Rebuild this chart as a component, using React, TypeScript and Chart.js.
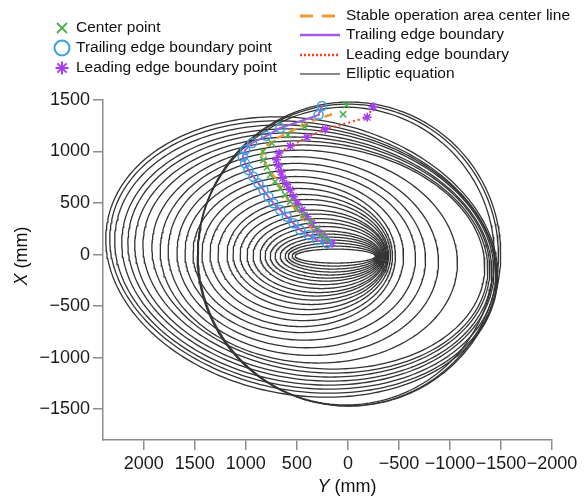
import React, { useEffect, useRef } from 'react';
import { Chart, registerables } from 'chart.js';

Chart.register(...registerables);

// Axis ticks (mm)
const horizontalTicks = [2000, 1500, 1000, 500, 0, -500, -1000, -1500, -2000]; // Y (mm)
const verticalTicks = [1500, 1000, 500, 0, -500, -1000, -1500]; // X (mm)

// Center points (Y, X) in mm
const centerPointY = [15, 47, 425, 588, 745, 833, 828, 794, 762, 713, 663, 614, 565, 499, 434, 369, 303, 254, 204];
const centerPointX = [1451, 1361, 1241, 1160, 1080, 998, 917, 847, 772, 707, 643, 578, 513, 449, 383, 318, 254, 189, 141];

// Trailing edge boundary points
const trailingY = [254, 287, 663, 801, 939, 1007, 1030, 1007, 975, 926, 877, 827, 778, 729, 663, 598, 533, 467, 385, 303, 204];
const trailingX = [1442, 1354, 1228, 1150, 1083, 1015, 950, 885, 820, 755, 691, 626, 561, 497, 432, 367, 303, 238, 189, 141, 109];

// Leading edge boundary points
const leadingY = [-248, -189, 221, 401, 565, 675, 700, 680, 655, 640, 600, 565, 533, 499, 450, 401, 352, 303, 254, 204, 155];
const leadingX = [1435, 1332, 1216, 1138, 1053, 985, 920, 860, 800, 740, 680, 626, 561, 497, 432, 367, 303, 238, 189, 141, 109];

// Stable operation area center line
const centerLineY = [155, 340, 535, 696, 830, 843, 800, 760, 712, 647, 565, 480, 400, 320, 230, 180];
const centerLineX = [1362, 1300, 1208, 1128, 1034, 950, 870, 800, 743, 626, 500, 400, 300, 210, 140, 110];

// Elliptic equation family: center (Y, X) in mm, semi-axes (mm), tilt of major axis (deg)
const ellipseCY = [123, 133, 147, 157, 177, 197, 216, 236, 256, 285, 310, 339, 369, 393, 428, 457, 482,
  486, 467, 457, 437, 383,
  290, 319, 349, 373, 393, 418, 437, 452,
  20, 0, -15];
const ellipseCX = [-15, -15, -15, -15, -15, -15, -15, -10, -10, -10, -5, -5, 0, 0, 0, 0, 0,
  0, -5, -10, -15, -20,
  -24, -24, -24, -24, -24, -24, -24, -24,
  -15, -5, 5];
const ellipseA = [393, 413, 437, 457, 486, 516, 545, 575, 604, 644, 678, 717, 757, 791, 845, 894, 948,
  1032, 1130, 1219, 1327, 1459,
  1636, 1697, 1747, 1793, 1833, 1880, 1912, 1936,
  1455, 1475, 1482];
const ellipseB = [68, 97, 126, 155, 184, 214, 243, 282, 320, 359, 398, 437, 485, 534, 583, 641, 699,
  757, 825, 893, 961, 1029,
  1080, 1116, 1154, 1190, 1229, 1264, 1299, 1339,
  1445, 1465, 1475];
const ellipseTilt = [0, 0, 0, 0, 0, 0, 0, 0, 0, 0, 0, 1, 1, 1, 1, 2, 2,
  2, 3, 4, 5, 5,
  6, 7, 7, 8, 8, 9, 10, 10,
  0, 0, 0];

const FONT = "'Liberation Sans', Arial, sans-serif";

const C_GREEN = '#4cae4c';
const C_BLUE = '#3d9fe8';
const C_PURPLE_STAR = '#a43ef0';
const C_PURPLE_LINE = '#a35ae0';
const C_ORANGE = '#f39a2e';
const C_RED = '#ff3b1a';

function zipPts(xs: number[], ys: number[]) {
  return xs.map((x, i) => ({ x, y: ys[i] }));
}

function ellipsePoints(cy: number, cx: number, a: number, b: number, tiltDeg: number) {
  const th = (tiltDeg * Math.PI) / 180;
  const pts: { x: number; y: number }[] = [];
  const n = 240;
  for (let k = 0; k <= n; k++) {
    const t = (2 * Math.PI * k) / n;
    const u = a * Math.cos(t);
    const v = b * Math.sin(t);
    pts.push({ x: cy + u * Math.cos(th) - v * Math.sin(th), y: cx + u * Math.sin(th) + v * Math.cos(th) });
  }
  return pts;
}

function fmt(v: number) {
  return v < 0 ? '\u2212' + Math.abs(v) : String(v);
}

const overlayPlugin = {
  id: 'overlay',
  afterDraw(chart: any) {
    const ctx: CanvasRenderingContext2D = chart.ctx;
    ctx.save();
    const lf = 15.5;
    ctx.font = `${lf}px ${FONT}`;
    ctx.textBaseline = 'middle';
    ctx.textAlign = 'left';
    ctx.fillStyle = '#111';

    // left column
    const mx = 62;
    const ltx = 76;
    let y = 28;
    ctx.strokeStyle = C_GREEN;
    ctx.lineWidth = 1.8;
    ctx.beginPath();
    ctx.moveTo(mx - 5, y - 5); ctx.lineTo(mx + 5, y + 5);
    ctx.moveTo(mx + 5, y - 5); ctx.lineTo(mx - 5, y + 5);
    ctx.stroke();
    ctx.fillText('Center point', ltx, y);
    y = 48;
    ctx.strokeStyle = C_BLUE;
    ctx.lineWidth = 2;
    ctx.beginPath();
    ctx.arc(mx, y, 7.5, 0, Math.PI * 2);
    ctx.stroke();
    ctx.fillText('Trailing edge boundary point', ltx, y);
    y = 68;
    ctx.strokeStyle = C_PURPLE_STAR;
    ctx.lineWidth = 2;
    ctx.beginPath();
    for (let k = 0; k < 4; k++) {
      const ang = (k * Math.PI) / 4;
      ctx.moveTo(mx - 6.5 * Math.cos(ang), y - 6.5 * Math.sin(ang));
      ctx.lineTo(mx + 6.5 * Math.cos(ang), y + 6.5 * Math.sin(ang));
    }
    ctx.stroke();
    ctx.fillText('Leading edge boundary point', ltx, y);

    // right column
    const lx0 = 300, lx1 = 340, tx = 346;
    y = 16;
    ctx.strokeStyle = C_ORANGE;
    ctx.lineWidth = 3;
    ctx.setLineDash([13, 9]);
    ctx.beginPath(); ctx.moveTo(lx0, y); ctx.lineTo(lx1, y); ctx.stroke();
    ctx.setLineDash([]);
    ctx.fillText('Stable operation area center line', tx, y);
    y = 35;
    ctx.strokeStyle = C_PURPLE_LINE;
    ctx.lineWidth = 2.5;
    ctx.beginPath(); ctx.moveTo(lx0, y); ctx.lineTo(lx1, y); ctx.stroke();
    ctx.fillText('Trailing edge boundary', tx, y);
    y = 55;
    ctx.strokeStyle = C_RED;
    ctx.lineWidth = 2.5;
    ctx.setLineDash([2, 2]);
    ctx.beginPath(); ctx.moveTo(lx0, y); ctx.lineTo(lx1, y); ctx.stroke();
    ctx.setLineDash([]);
    ctx.fillText('Leading edge boundary', tx, y);
    y = 74;
    ctx.strokeStyle = '#888';
    ctx.lineWidth = 2;
    ctx.beginPath(); ctx.moveTo(lx0, y); ctx.lineTo(lx1, y); ctx.stroke();
    ctx.fillText('Elliptic equation', tx, y);

    // axis titles
    const tf = 18;
    const drawTitle = (cxp: number, cyp: number, letter: string) => {
      ctx.font = `italic ${tf}px ${FONT}`;
      const w1 = ctx.measureText(letter).width;
      ctx.font = `${tf}px ${FONT}`;
      const w2 = ctx.measureText(' (mm)').width;
      const start = cxp - (w1 + w2) / 2;
      ctx.font = `italic ${tf}px ${FONT}`;
      ctx.fillText(letter, start, cyp);
      ctx.font = `${tf}px ${FONT}`;
      ctx.fillText(' (mm)', start + w1, cyp);
    };
    ctx.fillStyle = '#111';
    drawTitle(347, 487, 'Y');
    ctx.save();
    ctx.translate(22, 256);
    ctx.rotate(-Math.PI / 2);
    drawTitle(0, 0, 'X');
    ctx.restore();
    ctx.restore();
  },
};

export default function App() {
  const ref = useRef<HTMLCanvasElement>(null);
  useEffect(() => {
    document.body.style.margin = '0';
    const canvas = ref.current!;
    const ellipseSets = ellipseCY.map((cy, i) => ({
      type: 'scatter' as const,
      label: 'Elliptic equation',
      data: ellipsePoints(cy, ellipseCX[i], ellipseA[i], ellipseB[i], ellipseTilt[i]),
      showLine: true,
      borderColor: '#333333',
      borderWidth: 1.3,
      pointRadius: 0,
      fill: false,
      order: 5,
    }));
    const chart = new Chart(canvas, {
      type: 'scatter',
      data: {
        datasets: [
          ...ellipseSets,
          {
            label: 'Stable operation area center line',
            data: zipPts(centerLineY, centerLineX),
            showLine: true,
            borderColor: C_ORANGE,
            borderWidth: 2.5,
            borderDash: [8, 5],
            pointRadius: 0,
            order: 3,
          },
          {
            label: 'Trailing edge boundary',
            data: zipPts(trailingY, trailingX),
            showLine: true,
            borderColor: C_PURPLE_LINE,
            borderWidth: 2,
            pointRadius: 0,
            order: 3,
          },
          {
            label: 'Leading edge boundary',
            data: zipPts(leadingY, leadingX),
            showLine: true,
            borderColor: C_RED,
            borderWidth: 2,
            borderDash: [2, 3],
            pointRadius: 0,
            order: 3,
          },
          {
            label: 'Center point',
            data: zipPts(centerPointY, centerPointX),
            showLine: false,
            pointStyle: 'crossRot',
            pointRadius: 4.5,
            borderColor: C_GREEN,
            backgroundColor: C_GREEN,
            pointBorderWidth: 1.5,
            order: 1,
          },
          {
            label: 'Trailing edge boundary point',
            data: zipPts(trailingY, trailingX),
            showLine: false,
            pointStyle: 'circle',
            pointRadius: 4.5,
            borderColor: C_BLUE,
            backgroundColor: 'rgba(0,0,0,0)',
            pointBorderWidth: 1.5,
            order: 1,
          },
          {
            label: 'Leading edge boundary point',
            data: zipPts(leadingY, leadingX),
            showLine: false,
            pointStyle: 'star',
            pointRadius: 4.5,
            borderColor: C_PURPLE_STAR,
            backgroundColor: C_PURPLE_STAR,
            pointBorderWidth: 1.5,
            order: 1,
          },
        ] as any,
      },
      options: {
        responsive: false,
        animation: false,
        devicePixelRatio: 1,
        layout: { padding: { left: 0, right: 32, top: 100, bottom: 0 } },
        plugins: { legend: { display: false }, tooltip: { enabled: false } },
        elements: { line: { tension: 0 } },
        scales: {
          x: {
            type: 'linear',
            reverse: true,
            min: -2000,
            max: 2400,
            afterBuildTicks: (s: any) => {
              s.ticks = horizontalTicks.map((v) => ({ value: v }));
            },
            afterFit: (s: any) => {
              s.height = 59;
            },
            grid: { drawOnChartArea: false, drawTicks: true, tickLength: 10, color: '#8c8c8c', lineWidth: 1.5 },
            border: { display: true, color: '#8c8c8c', width: 1.5 },
            ticks: {
              color: '#1a1a1a',
              padding: 3,
              maxRotation: 0,
              autoSkip: false,
              font: { size: 18, family: FONT },
              callback: (v: any) => fmt(Number(v)),
            },
          },
          y: {
            type: 'linear',
            min: -1800,
            max: 1500,
            afterBuildTicks: (s: any) => {
              s.ticks = verticalTicks.map((v) => ({ value: v }));
            },
            afterFit: (s: any) => {
              s.width = 103;
            },
            grid: { drawOnChartArea: false, drawTicks: true, tickLength: 10, color: '#8c8c8c', lineWidth: 1.5 },
            border: { display: true, color: '#8c8c8c', width: 1.5 },
            ticks: {
              color: '#1a1a1a',
              padding: 3,
              autoSkip: false,
              font: { size: 18, family: FONT },
              callback: (v: any) => fmt(Number(v)),
            },
          },
        },
      } as any,
      plugins: [overlayPlugin],
    });
    return () => chart.destroy();
  }, []);
  return (
    <div style={{ width: 584, height: 499, background: '#fff' }}>
      <canvas ref={ref} width={584} height={499} style={{ display: 'block' }} />
    </div>
  );
}
